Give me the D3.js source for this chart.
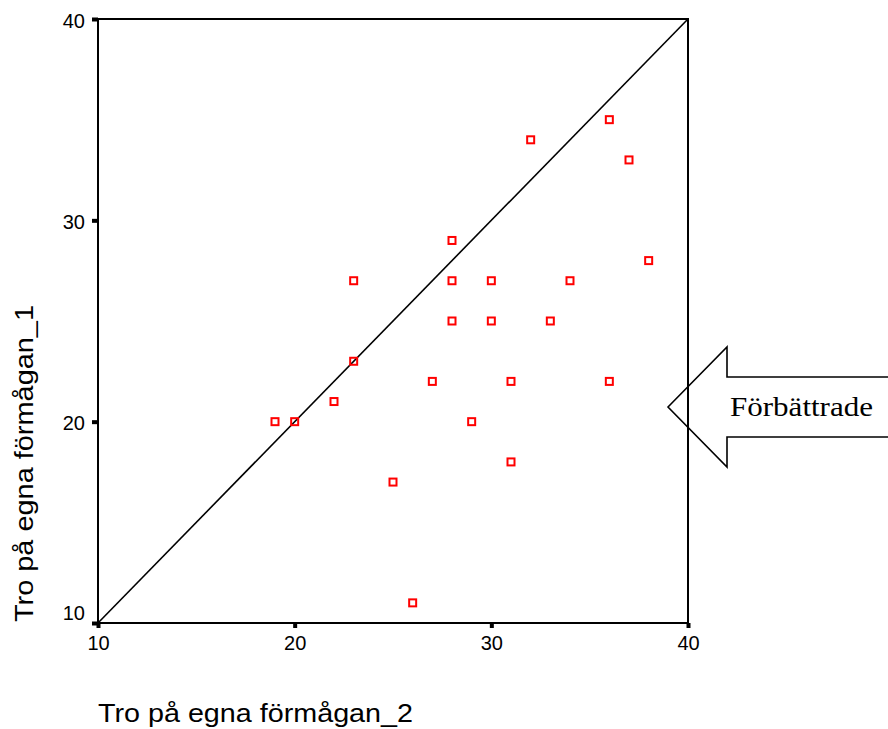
<!DOCTYPE html>
<html>
<head>
<meta charset="utf-8">
<script src="https://cdn.jsdelivr.net/npm/d3@7"></script>
<style>
  html, body { margin: 0; padding: 0; background: #fff; }
  svg { display: block; }
  text { font-family: "Liberation Sans", Arial, sans-serif; fill: #000; }
</style>
</head>
<body>
<svg id="chart" width="888" height="729"></svg>
<script>
// Belief in own ability: second measurement (x) vs first measurement (y)
const scoreAfter  = [19, 20, 22, 23, 23, 25, 26, 27, 28, 28, 28, 29, 30, 30, 31, 31, 32, 33, 34, 36, 37, 38, 36];
const scoreBefore = [20, 20, 21, 23, 27, 17, 11, 22, 29, 27, 25, 20, 27, 25, 22, 18, 34, 25, 27, 35, 33, 28, 22];
const axisTicks = [10, 20, 30, 40];
const axisDomain = [10, 40];
const xTitle = "Tro på egna förmågan_2";
const yTitle = "Tro på egna förmågan_1";
const arrowLabel = "Förbättrade";

const svg = d3.select("#chart");
const plotLeft = 98, plotRight = 688, plotTop = 19, plotBottom = 623;

const x = d3.scaleLinear().domain(axisDomain).range([plotLeft, plotRight]);
const y = d3.scaleLinear().domain(axisDomain).range([plotBottom, plotTop]);

// frame
svg.append("rect")
  .attr("x", plotLeft).attr("y", plotTop)
  .attr("width", plotRight - plotLeft).attr("height", plotBottom - plotTop)
  .attr("fill", "none").attr("stroke", "#000").attr("stroke-width", 2);

// reference diagonal y = x
svg.append("line")
  .attr("x1", x(axisDomain[0])).attr("y1", y(axisDomain[0]))
  .attr("x2", x(axisDomain[1])).attr("y2", y(axisDomain[1]))
  .attr("stroke", "#000").attr("stroke-width", 1.6);

// axes
const xAxis = d3.axisBottom(x).tickValues(axisTicks).tickSize(5).tickSizeOuter(0).tickPadding(8);
const yAxis = d3.axisLeft(y).tickValues(axisTicks).tickSize(6).tickSizeOuter(0).tickPadding(7);

const gx = svg.append("g").attr("transform", `translate(0,${plotBottom})`).call(xAxis);
const gy = svg.append("g").attr("transform", `translate(${plotLeft},0)`).call(yAxis);

[gx, gy].forEach(g => {
  g.select(".domain").remove();
  g.selectAll(".tick line").attr("stroke", "#000").attr("stroke-width", 4);
  g.selectAll(".tick text")
    .style("font-family", '"Liberation Sans", Arial, sans-serif')
    .style("font-size", "20px").attr("fill", "#000");
});
// keep the lowest y label clear of the x-axis labels
gy.selectAll(".tick text").attr("dy", d => d === axisDomain[0] ? "-0.2em" : "0.4em");

// data points
svg.append("g").selectAll("rect")
  .data(scoreAfter.map((v, i) => [v, scoreBefore[i]]))
  .join("rect")
  .attr("x", d => x(d[0]) - 3.5)
  .attr("y", d => y(d[1]) - 3.5)
  .attr("width", 7).attr("height", 7)
  .attr("fill", "none").attr("stroke", "#ff0000").attr("stroke-width", 2);

// axis titles
svg.append("text")
  .attr("x", plotLeft).attr("y", 722)
  .attr("textLength", 315).attr("lengthAdjust", "spacingAndGlyphs")
  .style("font-size", "25px")
  .text(xTitle);

svg.append("text")
  .attr("transform", "translate(33,622) rotate(-90)")
  .attr("textLength", 317).attr("lengthAdjust", "spacingAndGlyphs")
  .style("font-size", "25px")
  .text(yTitle);

// annotation arrow pointing into the plot
const tipX = 668, tipY = 407, headX = 727, headHalf = 60, shaftHalf = 30, tailX = 892;
const arrowPts = [
  [tipX, tipY], [headX, tipY - headHalf], [headX, tipY - shaftHalf], [tailX, tipY - shaftHalf],
  [tailX, tipY + shaftHalf], [headX, tipY + shaftHalf], [headX, tipY + headHalf]
];
svg.append("path")
  .attr("d", d3.line()(arrowPts) + "Z")
  .attr("fill", "none").attr("stroke", "#000").attr("stroke-width", 1.6);

svg.append("text")
  .attr("x", 730).attr("y", 416)
  .attr("textLength", 143).attr("lengthAdjust", "spacingAndGlyphs")
  .style("font-family", '"Liberation Serif", "Times New Roman", serif')
  .style("font-size", "27px")
  .text(arrowLabel);
</script>
</body>
</html>
